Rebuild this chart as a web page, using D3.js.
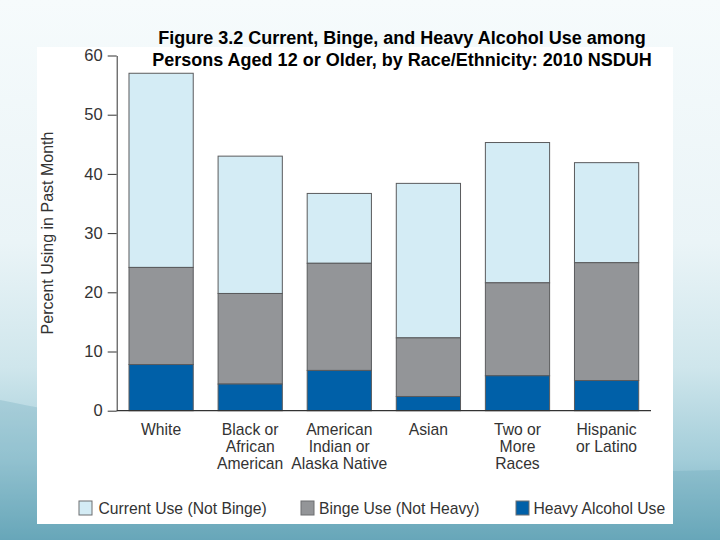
<!DOCTYPE html>
<html>
<head>
<meta charset="utf-8">
<script src="https://cdn.jsdelivr.net/npm/d3@7"></script>
<style>
html,body{margin:0;padding:0;overflow:hidden;background:#fff;}
svg{display:block;}
text{font-family:"Liberation Sans", Arial, Helvetica, sans-serif;}
</style>
</head>
<body>
<svg id="c" width="720" height="540"></svg>
<script>
// ---- data ----
const categories = [
  ["White"],
  ["Black or", "African", "American"],
  ["American", "Indian or", "Alaska Native"],
  ["Asian"],
  ["Two or", "More", "Races"],
  ["Hispanic", "or Latino"]
];
const currentUse = [57.0, 43.0, 36.7, 38.4, 45.3, 41.9];   // total current use
const bingeUse   = [24.2, 19.8, 24.9, 12.3, 21.6, 25.0];   // total binge use
const heavyUse   = [7.8, 4.5, 6.8, 2.4, 5.9, 5.1];         // heavy use
const yTicks = [0, 10, 20, 30, 40, 50, 60];
const seriesNames = ["Current Use (Not Binge)", "Binge Use (Not Heavy)", "Heavy Alcohol Use"];
const titleLines = ["Figure 3.2 Current, Binge, and Heavy Alcohol Use among",
                    "Persons Aged 12 or Older, by Race/Ethnicity: 2010 NSDUH"];

const colors = {current:"#d4ecf5", binge:"#939598", heavy:"#0060a8"};
const svg = d3.select("#c");

// ---- background ----
const defs = svg.append("defs");
const g1 = defs.append("linearGradient").attr("id","bg").attr("x1",0).attr("y1",0).attr("x2",0).attr("y2",1);
[[0,"#f6fbfc"],[0.45,"#eaf4f7"],[0.68,"#cfe6ec"],[0.85,"#a3cdd9"],[1,"#6aa9bb"]].forEach(s=>
  g1.append("stop").attr("offset",s[0]).attr("stop-color",s[1]));
svg.append("rect").attr("width",720).attr("height",540).attr("fill","url(#bg)");
svg.append("path").attr("d","M0,400 C150,430 400,480 720,470 L720,540 L0,540 Z")
  .attr("fill","#5f9fb3").attr("opacity",0.25);

// ---- panel ----
svg.append("rect").attr("x",37).attr("y",47).attr("width",636).attr("height",477).attr("fill","#fff");

// ---- title ----
titleLines.forEach((t,i)=>{
  svg.append("text").attr("x",402).attr("y",43.5+i*22.5).attr("text-anchor","middle")
    .attr("font-size",18).attr("font-weight","bold").attr("fill","#000").text(t);
});

// ---- scales ----
const x0 = 116.7, x1 = 651, yb = 410.7, yt = 55.5;
const x = d3.scaleBand().domain(d3.range(categories.length)).range([x0, x1])
  .paddingInner(0.279).paddingOuter(0.138);
const y = d3.scaleLinear().domain([0, 60]).range([yb, yt]);

// ---- bars ----
const segs = [];
categories.forEach((c,i)=>{
  segs.push({i, y0:bingeUse[i], y1:currentUse[i], fill:colors.current});
  segs.push({i, y0:heavyUse[i], y1:bingeUse[i], fill:colors.binge});
  segs.push({i, y0:0, y1:heavyUse[i], fill:colors.heavy});
});
svg.append("g").selectAll("rect").data(segs).join("rect")
  .attr("x", d=>x(d.i)).attr("width", x.bandwidth())
  .attr("y", d=>y(d.y1)).attr("height", d=>y(d.y0)-y(d.y1))
  .attr("fill", d=>d.fill).attr("stroke","#5a5b5d").attr("stroke-width",1);

// ---- axes ----
const ya = svg.append("g").attr("transform",`translate(${x0},0)`)
  .call(d3.axisLeft(y).tickValues(yTicks).tickSize(9).tickSizeOuter(0).tickPadding(5));
ya.select(".domain").attr("stroke","#333");
ya.selectAll(".tick line").attr("stroke","#333");
ya.selectAll(".tick text").attr("font-size",16.5).attr("fill","#333")
  .attr("font-family","Liberation Sans, Arial, sans-serif");

svg.append("line").attr("x1",x0).attr("x2",x1).attr("y1",yb).attr("y2",yb)
  .attr("stroke","#333").attr("stroke-width",1.2);

// category labels
const cl = svg.append("g");
categories.forEach((lines,i)=>{
  lines.forEach((ln,j)=>{
    cl.append("text").attr("x", x(i)+x.bandwidth()/2).attr("y", 434.5+j*17.2)
      .attr("text-anchor","middle").attr("font-size",15.7).attr("fill","#333").text(ln);
  });
});

// y label
svg.append("text").attr("transform","translate(52.5,233) rotate(-90)")
  .attr("text-anchor","middle").attr("font-size",16).attr("fill","#333")
  .text("Percent Using in Past Month");

// ---- legend ----
const legX = [79, 301, 516];
const legT = [98.5, 319, 533.5];
const legC = [colors.current, colors.binge, colors.heavy];
seriesNames.forEach((n,i)=>{
  svg.append("rect").attr("x",legX[i]).attr("y",501).attr("width",13).attr("height",14)
    .attr("fill",legC[i]).attr("stroke","#6d6e71");
  svg.append("text").attr("x",legT[i]).attr("y",514).attr("font-size",15.7)
    .attr("fill","#333").text(n);
});
</script>
</body>
</html>
